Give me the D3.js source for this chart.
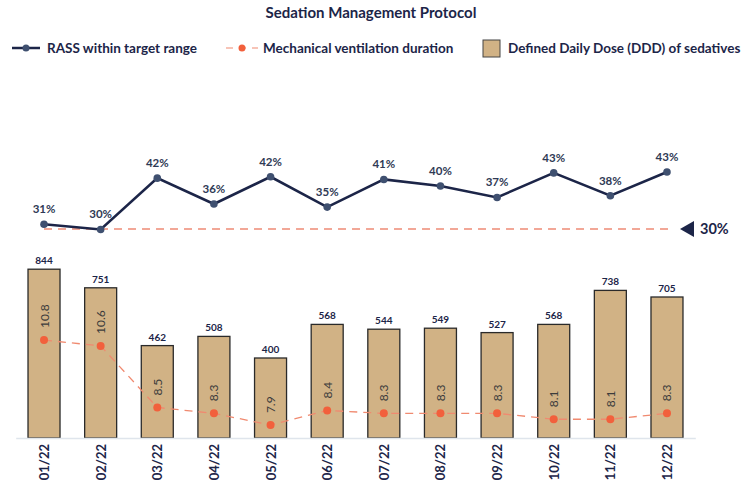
<!DOCTYPE html>
<html>
<head>
<meta charset="utf-8">
<script src="https://cdn.jsdelivr.net/npm/d3@7"></script>
<style>
  body { margin: 0; background: #fff; }
  svg { font-family: Lato, "Open Sans", sans-serif; }
</style>
</head>
<body>
<div id="chart"></div>
<script>
// data
const months = ["01/22", "02/22", "03/22", "04/22", "05/22", "06/22", "07/22", "08/22", "09/22", "10/22", "11/22", "12/22"];
const rass = [31.1, 29.9, 41.6, 35.7, 41.9, 35.0, 41.3, 39.8, 37.2, 42.8, 37.6, 43.0];
const ventilation = [10.8, 10.6, 8.5, 8.3, 7.9, 8.4, 8.3, 8.3, 8.3, 8.1, 8.1, 8.3];
const ddd = [844, 751, 462, 508, 400, 568, 544, 549, 527, 568, 738, 705];
const target = 30;

const width = 748, height = 484;
const navy = "#1c2548";
const orange = "#f2603c";
const tan = "#d1b285";

const svg = d3.select("#chart").append("svg")
  .attr("width", width)
  .attr("height", height);

// scales
const x = d3.scaleBand()
  .domain(months)
  .range([15.7, 695.3])
  .paddingInner(0.435)
  .paddingOuter(0.2175);
const cx = d => x(d) + x.bandwidth() / 2;

const yBar = d3.scaleLinear().domain([0, 1000]).range([438, 238]);
const yVent = d3.scaleLinear().domain([7.46, 14.28]).range([438, 238]);
const yRass = d3.scaleLinear().domain([30, 43]).range([229, 172]);

// title
svg.append("text")
  .attr("x", 371).attr("y", 18)
  .attr("text-anchor", "middle")
  .attr("font-size", 15).attr("font-weight", 700)
  .attr("fill", navy)
  .text("Sedation Management Protocol");

// legend
const leg = svg.append("g").attr("font-size", 13.5).attr("font-weight", 700).attr("fill", navy);
leg.append("line").attr("x1", 12).attr("x2", 40).attr("y1", 48).attr("y2", 48)
  .attr("stroke", navy).attr("stroke-width", 2.5);
leg.append("circle").attr("cx", 26).attr("cy", 48).attr("r", 3.5).attr("fill", "#3f5070");
leg.append("text").attr("x", 47).attr("y", 53).text("RASS within target range");

leg.append("line").attr("x1", 226).attr("x2", 258).attr("y1", 48).attr("y2", 48)
  .attr("stroke", "#f08a70").attr("stroke-width", 1.2).attr("stroke-dasharray", "7,6");
leg.append("circle").attr("cx", 242).attr("cy", 48).attr("r", 3.5).attr("fill", orange);
leg.append("text").attr("x", 263).attr("y", 53).text("Mechanical ventilation duration");

leg.append("rect").attr("x", 483).attr("y", 40).attr("width", 17).attr("height", 17)
  .attr("fill", tan).attr("stroke", "#444").attr("stroke-width", 1);
leg.append("text").attr("x", 508).attr("y", 53).text("Defined Daily Dose (DDD) of sedatives");

// bars
svg.append("g").selectAll("rect")
  .data(months)
  .join("rect")
  .attr("x", d => x(d))
  .attr("y", (d, i) => yBar(ddd[i]))
  .attr("width", x.bandwidth())
  .attr("height", (d, i) => yBar(0) - yBar(ddd[i]))
  .attr("fill", tan)
  .attr("stroke", "#2a2a2a")
  .attr("stroke-width", 1.3);

svg.append("g").selectAll("text")
  .data(months)
  .join("text")
  .attr("x", d => cx(d))
  .attr("y", (d, i) => yBar(ddd[i]) - 5)
  .attr("text-anchor", "middle")
  .attr("font-size", 10).attr("font-weight", 700)
  .attr("fill", navy)
  .text((d, i) => ddd[i]);

// x axis
const xAxis = svg.append("g")
  .attr("transform", `translate(0,${yBar(0)})`)
  .call(d3.axisBottom(x).tickSize(0).tickPadding(0));
xAxis.select(".domain").attr("stroke", "#dfe5ec").attr("stroke-width", 1.5);
xAxis.selectAll("text")
  .attr("font-family", "Lato, sans-serif")
  .attr("font-size", 13).attr("font-weight", 700)
  .attr("fill", navy)
  .attr("text-anchor", "end")
  .attr("dy", null)
  .attr("dominant-baseline", "central")
  .attr("transform", "translate(0,6) rotate(-90)")
  .attr("y", 0).attr("x", 0);

// ventilation dashed line
const ventLine = d3.line()
  .x((d, i) => cx(months[i]))
  .y(d => yVent(d));
svg.append("path")
  .datum(ventilation)
  .attr("d", ventLine)
  .attr("fill", "none")
  .attr("stroke", "#f08a70")
  .attr("stroke-width", 1.3)
  .attr("stroke-dasharray", "8,6");
svg.append("g").selectAll("circle")
  .data(ventilation)
  .join("circle")
  .attr("cx", (d, i) => cx(months[i]))
  .attr("cy", d => yVent(d))
  .attr("r", 4)
  .attr("fill", orange);
svg.append("g").selectAll("text")
  .data(ventilation)
  .join("text")
  .attr("transform", (d, i) => `translate(${cx(months[i])},${yVent(d) - 12}) rotate(-90)`)
  .attr("dominant-baseline", "central")
  .attr("font-size", 12)
  .attr("fill", "#3c3c3c")
  .text(d => d.toFixed(1));

// target line
svg.append("line")
  .attr("x1", cx(months[0])).attr("x2", 674)
  .attr("y1", yRass(target)).attr("y2", yRass(target))
  .attr("stroke", "#ee8a76")
  .attr("stroke-width", 1.3)
  .attr("stroke-dasharray", "8,6");
svg.append("path")
  .attr("d", `M680,${yRass(target)} L694,${yRass(target) - 8} L694,${yRass(target) + 8} Z`)
  .attr("fill", navy);
svg.append("text")
  .attr("x", 700).attr("y", yRass(target) + 5)
  .attr("font-size", 14.5).attr("font-weight", 700)
  .attr("fill", navy)
  .text(target + "%");

// RASS line
const rassLine = d3.line()
  .x((d, i) => cx(months[i]))
  .y(d => yRass(d));
svg.append("path")
  .datum(rass)
  .attr("d", rassLine)
  .attr("fill", "none")
  .attr("stroke", navy)
  .attr("stroke-width", 2.6);
svg.append("g").selectAll("circle")
  .data(rass)
  .join("circle")
  .attr("cx", (d, i) => cx(months[i]))
  .attr("cy", d => yRass(d))
  .attr("r", 3.8)
  .attr("fill", "#3f5070");
svg.append("g").selectAll("text")
  .data(rass)
  .join("text")
  .attr("x", (d, i) => cx(months[i]))
  .attr("y", d => yRass(d) - 11)
  .attr("text-anchor", "middle")
  .attr("font-size", 11.5).attr("font-weight", 700)
  .attr("fill", "#2f3a55")
  .text(d => Math.round(d) + "%");
</script>
</body>
</html>
